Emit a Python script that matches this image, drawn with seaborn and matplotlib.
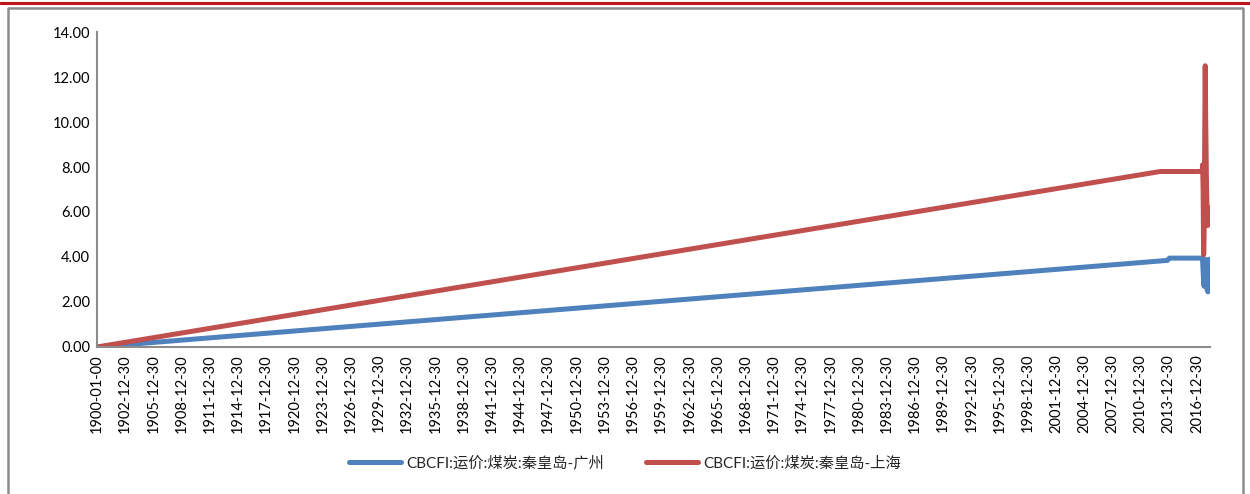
import pandas as pd
import seaborn as sns
import matplotlib.pyplot as plt
from matplotlib.lines import Line2D

sns.set_style("white")
plt.rcParams['font.family'] = ['Lato', 'Noto Sans CJK SC', 'DejaVu Sans']

# data (first point is Excel's day 0)
gz_dates = ['1899-12-31', '2013-11-15', '2014-01-20', '2017-08-01', '2017-08-20',
            '2017-09-10', '2017-10-01', '2017-10-25', '2017-11-20', '2017-12-15',
            '2018-01-10', '2018-02-05', '2018-03-01', '2018-03-25', '2018-04-15']
gz_values = [0.0, 3.85, 3.95, 3.95, 3.5, 3.0, 2.7, 3.3, 3.9, 3.4, 2.8, 2.5, 2.45, 3.2, 3.9]

sh_dates = ['1899-12-31', '2013-02-01', '2017-07-20', '2017-08-05', '2017-08-25',
            '2017-09-15', '2017-10-05', '2017-10-25', '2017-11-15', '2017-12-05',
            '2018-01-01', '2018-01-25', '2018-02-20', '2018-03-15', '2018-04-10']
sh_values = [0.0, 7.8, 7.8, 8.1, 7.0, 4.1, 5.0, 9.0, 12.5, 10.0, 7.5, 6.0, 5.4, 6.2, 5.6]

label_gz = 'CBCFI:运价:煤炭:秦皇岛-广州'
label_sh = 'CBCFI:运价:煤炭:秦皇岛-上海'

tick_years = list(range(1902, 2017, 3))

gz = pd.DataFrame({'date': pd.to_datetime(gz_dates), 'value': gz_values})
sh = pd.DataFrame({'date': pd.to_datetime(sh_dates), 'value': sh_values})

fig = plt.figure(figsize=(12.5, 4.94), dpi=100)
ax = fig.add_axes([0.0776, 0.2976, 0.8904, 0.6376])

blue = '#4F81BD'
red = '#C0504D'
sns.lineplot(data=gz, x='date', y='value', ax=ax, color=blue, linewidth=3.6,
             solid_capstyle='round', solid_joinstyle='round', estimator=None, sort=False)
sns.lineplot(data=sh, x='date', y='value', ax=ax, color=red, linewidth=3.6,
             solid_capstyle='round', solid_joinstyle='round', estimator=None, sort=False)

ax.set_ylim(0, 14)
ax.set_yticks(range(0, 15, 2))
ax.set_yticklabels([f'{v:.2f}' for v in range(0, 15, 2)])
ax.set_xlim(pd.Timestamp('1899-12-31'), pd.Timestamp('2018-05-20'))

ticks = [pd.Timestamp('1899-12-31')] + [pd.Timestamp(f'{y}-12-30') for y in tick_years]
ax.set_xticks(ticks)
ax.set_xticklabels(['1900-01-00'] + [f'{y}-12-30' for y in tick_years], rotation=90)
ax.tick_params(axis='both', length=0, labelsize=10.5, colors='black', pad=5)
ax.set_xlabel('')
ax.set_ylabel('')

for side in ['top', 'right']:
    ax.spines[side].set_visible(False)
for side in ['left', 'bottom']:
    ax.spines[side].set_color('#8c8c8c')
    ax.spines[side].set_linewidth(1.5)

handles = [Line2D([], [], color=blue, linewidth=3.6, solid_capstyle='round'),
           Line2D([], [], color=red, linewidth=3.6, solid_capstyle='round')]
fig.legend(handles, [label_gz, label_sh], loc='center', bbox_to_anchor=(0.5, 0.063),
           ncol=2, frameon=False, fontsize=11, handlelength=3.4, columnspacing=2.8,
           handletextpad=0.3)

# decorative header line and frame
fig.add_artist(Line2D([0, 1], [1 - 3 / 494, 1 - 3 / 494], color='#C0141C', linewidth=2.2,
                      transform=fig.transFigure))
fig.add_artist(Line2D([8 / 1250, 8 / 1250, 1243 / 1250, 1243 / 1250],
                      [0, 1 - 8 / 494, 1 - 8 / 494, 0], color='#8c8c8c', linewidth=1.8,
                      transform=fig.transFigure))

fig.savefig('out.png', dpi=100)
